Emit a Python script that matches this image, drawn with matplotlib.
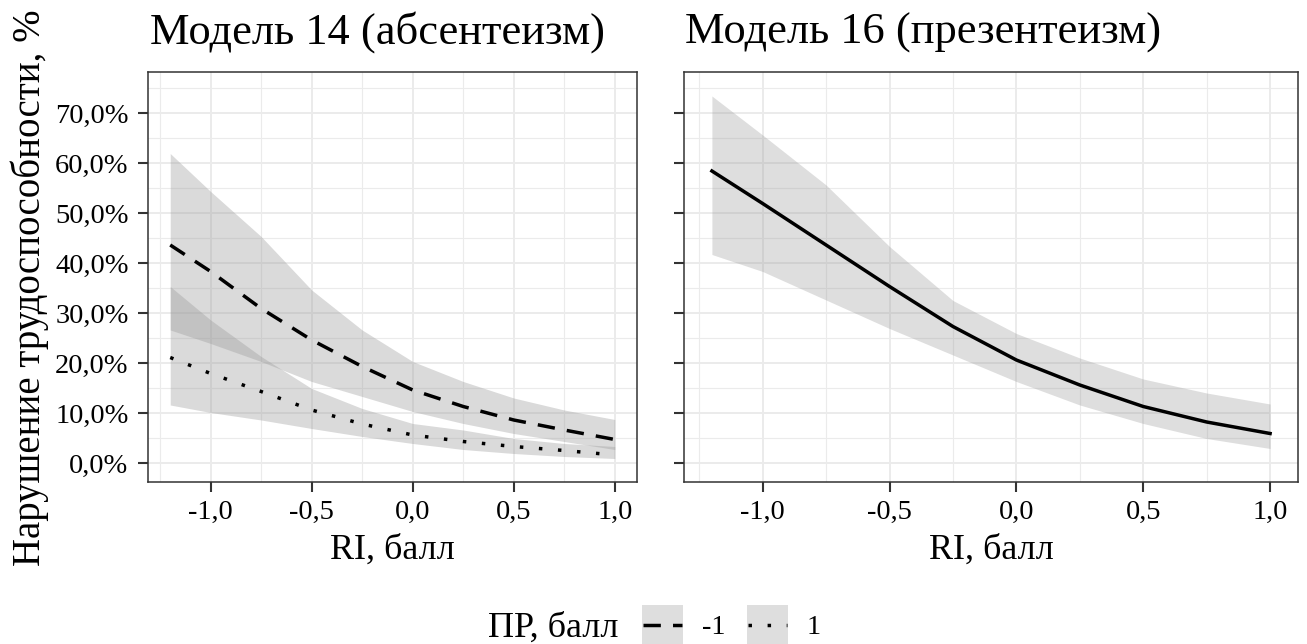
import matplotlib
matplotlib.use("Agg")
import matplotlib.pyplot as plt
from matplotlib.lines import Line2D
from matplotlib.patches import Rectangle
from matplotlib.ticker import FixedLocator, FuncFormatter

plt.rcParams['font.family'] = ['Liberation Serif', 'DejaVu Serif']
plt.rcParams['axes.unicode_minus'] = False

# ---------------- data ----------------
ri_x = [-1.2, -1.0, -0.75, -0.5, -0.25, 0.0, 0.25, 0.5, 0.75, 1.0]

# Model 14 (absenteeism), PR = -1
abs_m1_fit = [43.6, 38.3, 30.9, 24.6, 19.3, 14.6, 11.3, 8.6, 6.6, 4.7]
abs_m1_lo = [26.6, 23.9, 20.3, 16.3, 13.3, 10.3, 7.9, 5.9, 4.3, 2.7]
abs_m1_hi = [61.9, 54.3, 45.3, 34.6, 26.6, 20.3, 16.3, 13.0, 10.6, 8.7]
# Model 14 (absenteeism), PR = 1
abs_p1_fit = [21.1, 17.9, 14.3, 10.6, 7.8, 5.6, 4.3, 3.3, 2.5, 1.6]
abs_p1_lo = [11.6, 10.1, 8.6, 6.9, 5.3, 3.9, 2.7, 1.9, 1.3, 0.9]
abs_p1_hi = [35.3, 28.6, 21.3, 14.9, 10.9, 7.9, 6.6, 4.9, 3.9, 3.3]

# Model 16 (presenteeism)
pres_fit = [58.4, 51.9, 43.6, 35.3, 27.3, 20.6, 15.6, 11.3, 8.2, 5.9]
pres_lo = [41.7, 38.3, 32.6, 26.9, 21.6, 16.3, 11.6, 7.9, 4.9, 2.9]
pres_hi = [73.4, 65.6, 55.6, 43.3, 32.5, 25.9, 21.0, 16.8, 14.0, 11.8]

titles = ["Модель 14 (абсентеизм)", "Модель 16 (презентеизм)"]
x_label = "RI, балл"
y_label = "Нарушение трудоспособности, %"
legend_title = "ПР, балл"
legend_labels = ["-1", "1"]
x_ticks = [-1.0, -0.5, 0.0, 0.5, 1.0]
x_minor = [-1.25, -0.75, -0.25, 0.25, 0.75]
y_ticks = [0, 10, 20, 30, 40, 50, 60, 70]
y_minor = [5, 15, 25, 35, 45, 55, 65, 75]

# ---------------- figure ----------------
W, H = 1307, 644
fig = plt.figure(figsize=(W / 100, H / 100), dpi=100)

def px_rect(x0, x1, ytop, ybot):
    return [x0 / W, 1 - ybot / H, (x1 - x0) / W, (ybot - ytop) / H]

ax1 = fig.add_axes(px_rect(148, 637, 72, 482))
ax2 = fig.add_axes(px_rect(684, 1298, 72, 482))

border = '#333333'
grid_major = '#EBEBEB'
band = '#999999'
LW = 2.5

def style(ax, show_ylabels):
    ax.set_xlim(-1.31, 1.11)
    ax.set_ylim(-3.8, 78.2)
    ax.xaxis.set_major_locator(FixedLocator(x_ticks))
    ax.xaxis.set_minor_locator(FixedLocator(x_minor))
    ax.yaxis.set_major_locator(FixedLocator(y_ticks))
    ax.yaxis.set_minor_locator(FixedLocator(y_minor))
    ax.xaxis.set_major_formatter(FuncFormatter(lambda v, p: f"{v:.1f}".replace('.', ',')))
    if show_ylabels:
        ax.yaxis.set_major_formatter(FuncFormatter(lambda v, p: f"{v:.1f}%".replace('.', ',')))
    else:
        ax.yaxis.set_major_formatter(FuncFormatter(lambda v, p: ""))
    ax.grid(which='major', color=grid_major, linewidth=1.4, zorder=0)
    ax.grid(which='minor', color=grid_major, linewidth=0.8, zorder=0)
    ax.set_axisbelow(True)
    for s in ax.spines.values():
        s.set_color(border)
        s.set_linewidth(1.1)
    ax.tick_params(which='major', direction='out', length=7, width=1.5, color=border,
                   labelsize=20.5, labelcolor='black')
    ax.tick_params(axis='x', which='major', pad=6)
    ax.tick_params(axis='y', which='major', pad=7)
    ax.tick_params(which='minor', length=0)
    ax.set_xlabel(x_label, fontsize=26, labelpad=6)

style(ax1, True)
style(ax2, False)

# left panel
ax1.fill_between(ri_x, abs_m1_lo, abs_m1_hi, color=band, alpha=0.36, linewidth=0, zorder=2)
ax1.fill_between(ri_x, abs_p1_lo, abs_p1_hi, color=band, alpha=0.36, linewidth=0, zorder=2)
ax1.plot(ri_x, abs_m1_fit, color='black', linewidth=LW, linestyle=(0, (5, 3.5)),
         dash_capstyle='butt', zorder=3)
ax1.plot(ri_x, abs_p1_fit, color='black', linewidth=LW, linestyle=(0, (1, 4.5)),
         dash_capstyle='butt', zorder=3)

# right panel
ax2.fill_between(ri_x, pres_lo, pres_hi, color=band, alpha=0.32, linewidth=0, zorder=2)
ax2.plot(ri_x, pres_fit, color='black', linewidth=LW, zorder=3)

# titles
fig.text(150 / W, 1 - 44 / H, titles[0], fontsize=32, ha='left', va='baseline')
fig.text(685 / W, 1 - 44 / H, titles[1], fontsize=32, ha='left', va='baseline')

# y label
fig.text(30 / W, 1 - 288 / H, y_label, fontsize=28, rotation=90, ha='center', va='center')

# legend (drawn in figure pixels)
def fx(p):
    return p / W

def fy(p):
    return 1 - p / H

fig.text(fx(488), fy(628), legend_title, fontsize=26, ha='left', va='center')
key_fill = '#DEDEDE'
keys = [(642, (0, (5, 3.5))), (747, (0, (1, 4.5)))]
for (kx, ls), lab, tx in zip(keys, legend_labels, [702, 807]):
    fig.add_artist(Rectangle((fx(kx), fy(644)), 41 / W, 39 / H, transform=fig.transFigure,
                             facecolor=key_fill, edgecolor='none'))
    fig.add_artist(Line2D([fx(kx + 1), fx(kx + 40)], [fy(625), fy(625)],
                          transform=fig.transFigure, color='black', linewidth=LW,
                          linestyle=ls, dash_capstyle='butt'))
    fig.text(fx(tx), fy(627), lab, fontsize=20.5, ha='left', va='center')

fig.savefig("out.png", dpi=100)
